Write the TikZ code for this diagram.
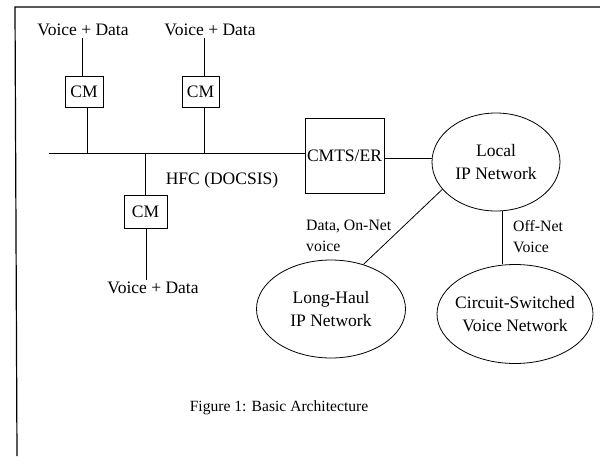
\documentclass[tikz,border=0pt]{standalone}
\usepackage{fontspec}
\setmainfont{Liberation Serif}
\usetikzlibrary{shapes.geometric}
\begin{document}
\begin{tikzpicture}[x=1pt,y=-1pt,
  lbl/.style={font=\fontsize{17.5}{21}\selectfont, inner sep=2pt},
  txt/.style={font=\fontsize{17.5}{23}\selectfont, inner sep=0pt, align=center},
  small/.style={font=\fontsize{15.8}{21}\selectfont, inner sep=0pt, align=left, anchor=west},
  box/.style={draw, line width=0.8pt, inner sep=0pt, font=\fontsize{17.5}{21}\selectfont},
  net/.style={draw, ellipse, line width=0.8pt, inner sep=0pt},
  wire/.style={line width=0.8pt}]
\useasboundingbox (0,0) rectangle (600,456);
\draw[line width=1.2pt] (17,456) -- (15,7) -- (600,7);
% texts and boxes
\node[lbl] (vd1) at (83,30) {Voice + Data};
\node[lbl] (vd2) at (210,30) {Voice + Data};
\node[box, minimum width=38pt, minimum height=31pt] (cm1) at (84,91.5) {CM};
\node[box, minimum width=37pt, minimum height=31pt] (cm2) at (200.5,91.5) {CM};
\node[box, minimum width=43pt, minimum height=33pt] (cm3) at (145.5,212) {CM};
\node[box, minimum width=79pt, minimum height=75pt] (cmts) at (344.5,155.5) {CMTS/ER};
\node[lbl] (hfc) at (222,180) {HFC (DOCSIS)};
\node[lbl] (vd3) at (153,288) {Voice + Data};
% networks
\node[net, minimum width=128pt, minimum height=98pt] (local) at (496,162) {};
\node[txt] (localT) at (local) {Local\\IP Network};
\node[net, minimum width=149pt, minimum height=98pt] (lh) at (331,309) {};
\node[txt] (lhT) at (lh) {Long-Haul\\IP Network};
\node[net, minimum width=156pt, minimum height=99pt] (csvn) at (515,314) {};
\node[txt] (csvnT) at (csvn) {Circuit-Switched\\Voice Network};
% labels
\node[small] (onnet) at (306,236) {Data, On-Net\\voice};
\node[small] (offnet) at (513,237) {Off-Net\\Voice};
\node[font=\fontsize{15.6}{19}\selectfont, inner sep=0pt] (cap) at (279,408) {Figure 1: Basic Architecture};
% bus
\coordinate (busL) at (49,153);
\draw[wire] (busL) -- (busL -| cmts.west);
% CM connections
\draw[wire] ([xshift=-1pt]vd1.south) -- ([xshift=-1pt]vd1.south |- cm1.north);
\draw[wire] ([xshift=3pt]cm1.south) -- ([xshift=3pt]cm1.south |- busL);
\draw[wire] ([xshift=-6pt]vd2.south) -- ([xshift=-6pt]vd2.south |- cm2.north);
\draw[wire] ([xshift=3.5pt]cm2.south) -- ([xshift=3.5pt]cm2.south |- busL);
\draw[wire] (cm3.north) -- (cm3.north |- busL);
\draw[wire] ([xshift=1pt]cm3.south) -- ([xshift=1pt]cm3.south |- vd3.north);
% network connections
\draw[wire] (local.177) -- (local.177 -| cmts.east);
\draw[wire] (local.207) -- (lh.54);
\draw[wire] (local.-83) -- (local.-83 |- csvn.north);
\end{tikzpicture}
\end{document}
